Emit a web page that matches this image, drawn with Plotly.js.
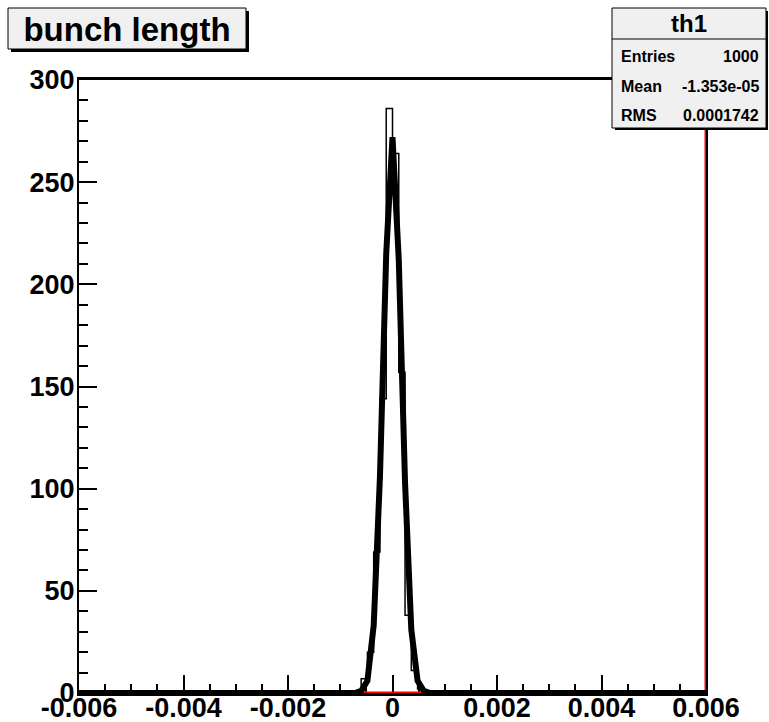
<!DOCTYPE html>
<html>
<head>
<meta charset="utf-8">
<script src="https://cdn.plot.ly/plotly-3.0.1.min.js"></script>
<style>html,body{margin:0;padding:0;background:#fff;}#chart{width:769px;height:722px;}</style>
</head>
<body>
<div id="chart"></div>
<script>
// ---- data ----
const binLow = -0.006;
const binHigh = 0.006;
const nBins = 100;
const counts = [
  0,0,0,0,0,0,0,0,0,0,
  0,0,0,0,0,0,0,0,0,0,
  0,0,0,0,0,0,0,0,0,0,
  0,0,0,0,0,0,0,0,0,0,
  0,0,0,0,1,7,20,69,144,286,
  264,157,38,11,2,1,0,0,0,0,
  0,0,0,0,0,0,0,0,0,0,
  0,0,0,0,0,0,0,0,0,0,
  0,0,0,0,0,0,0,0,0,0,
  0,0,0,0,0,0,0,0,0,0
];
const fitX = [-0.006, -0.00072, -0.0006, -0.00048, -0.00036, -0.00024, -0.00012, 0, 0.00012, 0.00024, 0.00036, 0.00048, 0.0006, 0.00072, 0.006];
const fitY = [0, 0, 1, 6, 33, 106, 215, 272, 212, 103, 31, 6, 1, 0, 0];
const redX = [-0.006, 0.006, 0.006];
const redY = [0, 0, 400];
const xTickVals = [-0.006, -0.004, -0.002, 0, 0.002, 0.004, 0.006];
const xTickText = ['-0.006', '-0.004', '-0.002', '0', '0.002', '0.004', '0.006'];
const yTickVals = [0, 50, 100, 150, 200, 250, 300];
const yTickText = ['0', '50', '100', '150', '200', '250', '300'];
const titleText = 'bunch length';
const statsName = 'th1';
const statsLabels = ['Entries', 'Mean', 'RMS'];
const statsValues = ['1000', '-1.353e-05', '0.0001742'];

// ---- build ----
const binWidth = (binHigh - binLow) / nBins;
const edges = [];
for (let i = 0; i <= nBins; i++) edges.push(binLow + i * binWidth);
const stepY = counts.concat([counts[counts.length - 1]]);

const W = 769, H = 722;
const mL = 79, mR = 63, mT = 80, mB = 29;
const pw = W - mL - mR, ph = H - mT - mB;
const px = v => (v - mL) / pw;
const py = v => (H - mB - v) / ph;

const FONT = 'Liberation Sans, Arial, Helvetica, sans-serif';

const traces = [
  {x: redX, y: redY, type: 'scatter', mode: 'lines', line: {color: '#ff0000', width: 3}, hoverinfo: 'skip', showlegend: false},
  {x: edges, y: stepY, type: 'scatter', mode: 'lines', line: {color: '#000', width: 1.5, shape: 'hv'}, hoverinfo: 'skip', showlegend: false},
  {x: fitX, y: fitY, type: 'scatter', mode: 'lines', line: {color: '#000', width: 6}, hoverinfo: 'skip', showlegend: false}
];

const shapes = [
  // title box shadow + box
  {type: 'rect', xref: 'paper', yref: 'paper', x0: px(11), x1: px(249), y0: py(11), y1: py(52), fillcolor: '#000', line: {width: 0}, layer: 'above'},
  {type: 'rect', xref: 'paper', yref: 'paper', x0: px(8), x1: px(246), y0: py(8), y1: py(49), fillcolor: '#f0f0f0', line: {color: '#000', width: 1}, layer: 'above'},
  // stats box shadow + box
  {type: 'rect', xref: 'paper', yref: 'paper', x0: px(615), x1: px(768), y0: py(11), y1: py(130), fillcolor: '#000', line: {width: 0}, layer: 'above'},
  {type: 'rect', xref: 'paper', yref: 'paper', x0: px(612), x1: px(766), y0: py(8), y1: py(128), fillcolor: '#f0f0f0', line: {color: '#000', width: 1}, layer: 'above'},
  {type: 'line', xref: 'paper', yref: 'paper', x0: px(612), x1: px(766), y0: py(39), y1: py(39), line: {color: '#000', width: 1}, layer: 'above'}
];

const annotations = [
  {xref: 'paper', yref: 'paper', x: px(689), y: py(24), text: statsName, showarrow: false, xanchor: 'center', yanchor: 'middle',
   font: {family: FONT, size: 24, color: '#000', weight: 'bold'}}
];
const rowY = [56, 86, 116];
for (let i = 0; i < statsLabels.length; i++) {
  annotations.push({xref: 'paper', yref: 'paper', x: px(619), y: py(rowY[i]), text: statsLabels[i], showarrow: false,
    xanchor: 'left', yanchor: 'middle', font: {family: FONT, size: 16, color: '#000', weight: 'bold'}});
  annotations.push({xref: 'paper', yref: 'paper', x: px(761), y: py(rowY[i]), text: statsValues[i], showarrow: false,
    xanchor: 'right', yanchor: 'middle', font: {family: FONT, size: 16, color: '#000', weight: 'bold'}});
}

const axisCommon = {
  showgrid: false, zeroline: false, showline: true, linecolor: '#000', linewidth: 2, mirror: true,
  ticks: 'inside', ticklen: 18, tickwidth: 2, tickcolor: '#000', layer: 'below traces',
  tickmode: 'array', tickfont: {family: FONT, size: 27, color: '#000', weight: 'bold'}
};

const layout = {
  width: W, height: H,
  margin: {l: mL, r: mR, t: mT, b: mB, pad: 0},
  paper_bgcolor: '#fff', plot_bgcolor: '#fff',
  showlegend: false,
  title: {text: titleText, xref: 'container', yref: 'container', x: 127 / W, y: 1 - 29 / H, xanchor: 'center', yanchor: 'middle',
          font: {family: FONT, size: 33, color: '#000', weight: 'bold'}},
  xaxis: Object.assign({}, axisCommon, {range: [binLow, binHigh], tickvals: xTickVals, ticktext: xTickText, linewidth: 3,
          ticklabelstandoff: -11,
          minor: {dtick: 0.0005, tick0: 0, ticklen: 9, tickwidth: 2, tickcolor: '#000', ticks: 'inside'}}),
  yaxis: Object.assign({}, axisCommon, {range: [0, 300], tickvals: yTickVals, ticktext: yTickText,
          ticklabelstandoff: -3,
          minor: {dtick: 10, tick0: 0, ticklen: 9, tickwidth: 2, tickcolor: '#000', ticks: 'inside'}}),
  shapes: shapes,
  annotations: annotations
};

Plotly.newPlot('chart', traces, layout, {staticPlot: true, displayModeBar: false});
</script>
</body>
</html>
